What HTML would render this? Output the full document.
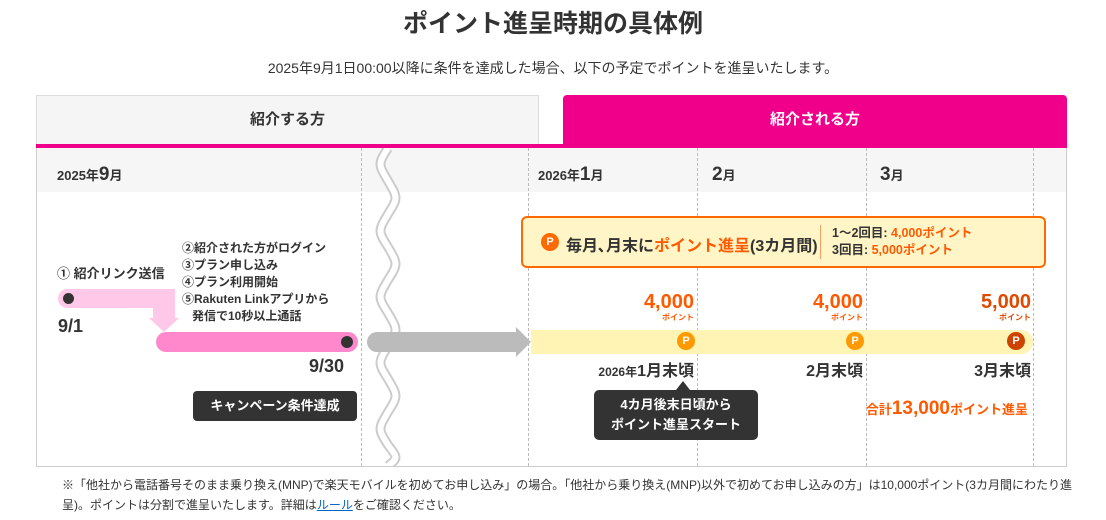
<!DOCTYPE html>
<html><head><meta charset="utf-8"><style>
*{margin:0;padding:0;box-sizing:border-box}
body{width:1106px;height:520px;background:#fff;font-family:"Liberation Sans","Noto Sans CJK JP",sans-serif;color:#333;position:relative;overflow:hidden}
.a{position:absolute;white-space:nowrap}
.b{font-weight:bold}
.o{color:#ff5a00}
.dl{position:absolute;top:148px;height:318px;border-left:1px dashed #bbb}
.pc{position:absolute;width:18px;height:18px;border-radius:50%;background:#ff9900;color:#fff;font-size:11px;font-weight:bold;text-align:center;line-height:18px}
</style></head><body>
<div class="a b" style="left:0;width:1106px;text-align:center;top:4px;font-size:25px;color:#333">ポイント進呈時期の具体例</div>
<div class="a" style="left:0;width:1106px;text-align:center;top:58px;font-size:14px">2025年9月1日00:00以降に条件を達成した場合、以下の予定でポイントを進呈いたします。</div>
<div class="a b" style="left:36px;top:95px;width:503px;height:50px;background:#f5f5f5;border:1px solid #ddd;border-bottom:none;text-align:center;line-height:48px;font-size:15px">紹介する方</div>
<div class="a b" style="left:563px;top:95px;width:504px;height:50px;background:#f0008a;color:#fff;border-radius:4px 4px 0 0;text-align:center;line-height:50px;font-size:15px">紹介される方</div>
<div class="a" style="left:36px;top:144px;width:1031px;height:4px;background:#f0008a"></div>
<div class="a" style="left:36px;top:148px;width:1031px;height:319px;border:1px solid #ccc;border-top:none"></div>
<div class="a" style="left:37px;top:148px;width:1029px;height:44px;background:#f6f6f6"></div>
<div class="dl" style="left:361px"></div><div class="dl" style="left:528px"></div><div class="dl" style="left:697px"></div><div class="dl" style="left:866px"></div><div class="dl" style="left:1033px"></div>
<svg class="a" style="left:370px;top:148px" width="36" height="318"><path d="M18 0 C8 16,8 16,18 33 C28 50,28 50,18 66 C8 83,8 83,18 99 C28 116,28 116,18 132 C8 149,8 149,18 165 C28 182,28 182,18 198 C8 215,8 215,18 231 C28 248,28 248,18 264 C8 281,8 281,18 297 C28 310,28 310,18 318" stroke="#ccc" stroke-width="10" fill="none"/><path d="M18 0 C8 16,8 16,18 33 C28 50,28 50,18 66 C8 83,8 83,18 99 C28 116,28 116,18 132 C8 149,8 149,18 165 C28 182,28 182,18 198 C8 215,8 215,18 231 C28 248,28 248,18 264 C8 281,8 281,18 297 C28 310,28 310,18 318" stroke="#fff" stroke-width="6" fill="none"/></svg>
<div class="a b" style="left:57px;top:164px;font-size:13px">2025年<span style="font-size:19px">9</span>月</div>
<div class="a b" style="left:538px;top:164px;font-size:13px">2026年<span style="font-size:19px">1</span>月</div>
<div class="a b" style="left:712px;top:164px;font-size:13px"><span style="font-size:19px">2</span>月</div>
<div class="a b" style="left:880px;top:164px;font-size:13px"><span style="font-size:19px">3</span>月</div>
<div class="a b" style="left:57px;top:263px;font-size:13px">① 紹介リンク送信</div>
<div class="a b" style="left:182px;top:240px;font-size:12px;line-height:17px">②紹介された方がログイン<br>③プラン申し込み<br>④プラン利用開始<br>⑤Rakuten Linkアプリから<br>&nbsp;&nbsp;&nbsp;発信で10秒以上通話</div>
<div class="a" style="left:58px;top:289px;width:117px;height:19px;background:#ffc8e8;border-radius:10px 0 0 10px"></div>
<div class="a" style="left:153px;top:289px;width:22px;height:30px;background:#ffc8e8"></div>
<div class="a" style="left:149px;top:318px;width:0;height:0;border-left:15px solid transparent;border-right:15px solid transparent;border-top:14px solid #ffc8e8"></div>
<div class="a" style="left:63px;top:293px;width:11px;height:11px;border-radius:50%;background:#333"></div>
<div class="a b" style="left:58px;top:316px;font-size:18px">9/1</div>
<div class="a" style="left:156px;top:332px;width:202px;height:20px;background:#ff88cc;border-radius:10px"></div>
<div class="a" style="left:341px;top:336px;width:12px;height:12px;border-radius:50%;background:#333"></div>
<div class="a b" style="left:309px;top:356px;font-size:18px">9/30</div>
<div class="a" style="left:336px;top:387px;width:0;height:0;border-left:10px solid transparent;border-top:10px solid transparent;border-right:0;border-bottom:8px solid #333"></div>
<div class="a b" style="left:193px;top:391px;width:164px;height:30px;background:#333;color:#fff;border-radius:4px;font-size:13px;text-align:center;line-height:30px">キャンペーン条件達成</div>
<div class="a" style="left:367px;top:332px;width:150px;height:20px;background:#bbb;border-radius:10px 0 0 10px"></div>
<div class="a" style="left:516px;top:327px;width:0;height:0;border-top:15px solid transparent;border-bottom:15px solid transparent;border-left:15px solid #bbb"></div>
<div class="a" style="left:531px;top:330px;width:502px;height:24px;background:#fff4b3;border-radius:0 12px 12px 0"></div>
<div class="a" style="left:521px;top:216px;width:525px;height:52px;background:#fff5c6;border:2px solid #ff6a00;border-radius:6px"></div>
<div class="pc" style="left:541px;top:233px;background:#ff6a00">P</div>
<div class="a b" style="left:566px;top:232px;font-size:16px">毎月､月末に<span class="o">ポイント進呈</span>(3カ月間)</div>
<div class="a" style="left:820px;top:225px;width:1px;height:34px;background:#f4a060"></div>
<div class="a b" style="left:832px;top:225px;font-size:12.5px;line-height:17px">1～2回目: <span class="o">4,000ポイント</span><br>3回目: <span class="o">5,000ポイント</span></div>
<div class="a b o" style="right:412px;top:291px;font-size:20px;text-align:right;line-height:22px">4,000<div style="font-size:8px;line-height:10px">ポイント</div></div>
<div class="a b o" style="right:243px;top:291px;font-size:20px;text-align:right;line-height:22px">4,000<div style="font-size:8px;line-height:10px">ポイント</div></div>
<div class="a b" style="right:75px;top:291px;font-size:20px;text-align:right;line-height:22px;color:#e04a00">5,000<div style="font-size:8px;line-height:10px">ポイント</div></div>
<div class="pc" style="left:677px;top:332px">P</div>
<div class="pc" style="left:846px;top:332px">P</div>
<div class="pc" style="left:1007px;top:332px;background:#cc4400">P</div>
<div class="a b" style="right:412px;top:357px;font-size:16px"><span style="font-size:12px">2026年</span>1月末頃</div>
<div class="a b" style="right:243px;top:357px;font-size:16px">2月末頃</div>
<div class="a b" style="right:75px;top:357px;font-size:16px">3月末頃</div>
<div class="a" style="left:676px;top:381px;width:0;height:0;border-left:7px solid transparent;border-right:7px solid transparent;border-bottom:9px solid #333"></div>
<div class="a b" style="left:594px;top:390px;width:164px;height:50px;background:#333;color:#fff;border-radius:5px;font-size:13px;text-align:center;line-height:20px;padding-top:5px">4カ月後末日頃から<br>ポイント進呈スタート</div>
<div class="a b o" style="right:78px;top:398px;font-size:13px">合計<span style="font-size:19px">13,000</span>ポイント進呈</div>
<div class="a" style="left:62px;top:475px;font-size:12px;line-height:20px;white-space:normal;width:1012px">※「他社から電話番号そのまま乗り換え(MNP)で楽天モバイルを初めてお申し込み」の場合。「他社から乗り換え(MNP)以外で初めてお申し込みの方」は10,000ポイント(3カ月間にわたり進呈)。ポイントは分割で進呈いたします。詳細は<span style="color:#0066cc;text-decoration:underline">ルール</span>をご確認ください。</div>
</body></html>
